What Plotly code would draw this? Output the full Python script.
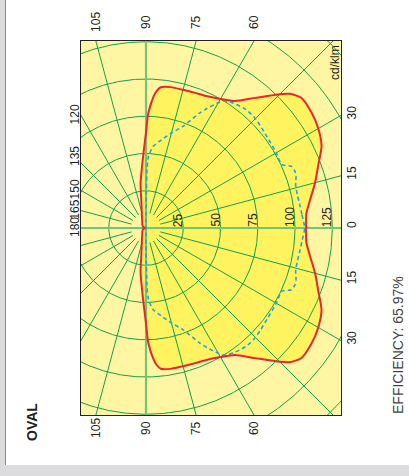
import numpy as np
import plotly.graph_objects as go

# ---- data ----
red_angles = [0, 5, 10, 15, 20, 25, 30, 35, 40, 43, 45, 50, 55, 60, 65, 70, 75, 80, 84, 86, 87,
              88, 89, 90, 91, 92, 94, 97, 100, 105, 110, 120, 135, 150, 165, 180]
red_values = [107.5, 108, 112, 117.5, 123, 130, 133.5, 135.5, 136, 132, 127, 114, 104, 100, 97.5,
              96.5, 96, 96, 95, 91, 87, 82, 76, 64, 56, 50, 40, 30, 18, 11, 8, 5, 3.5, 2.5, 1.5, 0.5]

blue_angles = [0, 5, 8, 12, 16, 19, 21, 23, 25, 30, 37, 42, 46, 50, 55, 58, 60, 63, 65, 70, 75,
               80, 85, 88, 89, 89.5, 90, 95, 180]
blue_values = [106.5, 105, 104.5, 104, 104.5, 106.5, 107, 106, 100.5, 101, 101.7, 103, 104, 104,
               102.3, 100.5, 97, 90, 85, 72.6, 66, 60, 55, 48, 40, 25, 10, 2, 0]

radial_ticks = [25, 50, 75, 100, 125]
top_angle_labels = [105, 90, 75, 60]
left_angle_labels = [120, 135, 150, 165, 180]
right_angle_labels = [30, 15, 0, -15, -30]
title_text = "OVAL"
unit_text = "cd/klm"
efficiency_text = "EFFICIENCY: 65.97%"

# ---- geometry / style ----
W, H = 409, 476
L, R, T, B = 81, 68, 41, 61
PX = 1.49  # pixels per cd/klm unit
X0, X1 = -(146 - L) / PX, (W - R - 146) / PX
Y1 = (228 - T) / PX
Y0 = -Y1

LIGHT = "#FFF6A3"
BRIGHT = "#FFF35F"
GREEN = "#12A04C"
AXGREEN = "#72C476"
RED = "#E8262B"
BLUE = "#1FA3E3"
TXT = "#231F20"
FONT = "Liberation Sans, Arial, sans-serif"


def full_curve(angles, values):
    a = np.radians(np.array(angles, dtype=float))
    r = np.array(values, dtype=float)
    xu, yu = r * np.cos(a), r * np.sin(a)
    xs = np.concatenate([xu, xu[::-1]])
    ys = np.concatenate([yu, -yu[::-1]])
    return xs, ys


rx, ry = full_curve(red_angles, red_values)
bx, by = full_curve(blue_angles, blue_values)

fig = go.Figure()

# yellow fill inside the red curve
fig.add_trace(go.Scatter(x=rx, y=ry, mode="lines", fill="toself", fillcolor=BRIGHT,
                         line=dict(width=0, color=BRIGHT), hoverinfo="skip", showlegend=False))

# grid circles
th = np.linspace(0, 2 * np.pi, 721)
gx, gy = [], []
for rr in range(25, 226, 25):
    gx += list(rr * np.cos(th)) + [None]
    gy += list(rr * np.sin(th)) + [None]
# radial lines every 15 degrees (except the main axes)
for ang in range(0, 360, 15):
    if ang % 90 == 0:
        continue
    a = np.radians(ang)
    gx += [10 * np.cos(a), 400 * np.cos(a), None]
    gy += [10 * np.sin(a), 400 * np.sin(a), None]
fig.add_trace(go.Scatter(x=gx, y=gy, mode="lines", line=dict(color=GREEN, width=1),
                         hoverinfo="skip", showlegend=False))
# main axes
fig.add_trace(go.Scatter(x=[-400, 400, None, 0, 0], y=[0, 0, None, -400, 400], mode="lines",
                         line=dict(color=AXGREEN, width=2.2), hoverinfo="skip", showlegend=False))

# blue dashed curve
fig.add_trace(go.Scatter(x=bx, y=by, mode="lines",
                         line=dict(color=BLUE, width=1.6, dash="4px,3px", shape="spline", smoothing=0.6),
                         hoverinfo="skip", showlegend=False))
# red curve
fig.add_trace(go.Scatter(x=rx, y=ry, mode="lines",
                         line=dict(color=RED, width=2, shape="spline", smoothing=0.6),
                         hoverinfo="skip", showlegend=False))

ann = []
tf = dict(family=FONT, size=12, color=TXT)
for a in top_angle_labels:
    xv = Y1 / np.tan(np.radians(a))
    ann.append(dict(x=xv, y=1, xref="x", yref="paper", text=str(a), textangle=-90, showarrow=False,
                    font=tf, xanchor="center", yanchor="middle", yshift=19))
    ann.append(dict(x=xv, y=0, xref="x", yref="paper", text=str(a), textangle=-90, showarrow=False,
                    font=tf, xanchor="center", yanchor="middle", yshift=-13))
for a in left_angle_labels:
    yv = X0 * np.tan(np.radians(a))
    shift = 7 if a == 135 else 1
    ann.append(dict(x=0, y=yv, xref="paper", yref="y", text=str(a), textangle=-90, showarrow=False,
                    font=tf, xanchor="center", yanchor="middle", xshift=-6, yshift=shift))
for a in right_angle_labels:
    yv = X1 * np.tan(np.radians(a))
    ann.append(dict(x=1, y=yv, xref="paper", yref="y", text=str(abs(a)), textangle=-90, showarrow=False,
                    font=tf, xanchor="center", yanchor="middle", xshift=11, yshift=3))
for r in radial_ticks:
    ann.append(dict(x=r, y=0, xref="x", yref="y", text=str(r), textangle=-90, showarrow=False,
                    font=tf, xanchor="center", yanchor="bottom", xshift=-5, yshift=-1))
ann.append(dict(x=1, y=1 - (63 - T) / (H - T - B), xref="paper", yref="paper", text=unit_text,
                textangle=-90, showarrow=False, font=tf, xanchor="center", yanchor="middle", xshift=-6))
ann.append(dict(x=(32 - L) / (W - L - R), y=1 - (422 - T) / (H - T - B), xref="paper", yref="paper",
                text="<b>" + title_text + "</b>", textangle=-90, showarrow=False,
                font=dict(family=FONT, size=14, color=TXT), xanchor="center", yanchor="middle"))
ann.append(dict(x=(398 - L) / (W - L - R), y=1 - (345 - T) / (H - T - B), xref="paper", yref="paper",
                text=efficiency_text, textangle=-90, showarrow=False,
                font=dict(family=FONT, size=14, color="#444444"), xanchor="center", yanchor="middle"))


def pxx(p):
    return (p - L) / (W - L - R)


def pxy(p):
    return 1 - (p - T) / (H - T - B)


shapes = [
    dict(type="rect", xref="paper", yref="paper", x0=pxx(0), x1=pxx(5), y0=pxy(476), y1=pxy(0),
         fillcolor="#DCDCDE", line=dict(width=0), layer="below"),
    dict(type="rect", xref="paper", yref="paper", x0=pxx(0), x1=pxx(409), y0=pxy(476), y1=pxy(465),
         fillcolor="#DCDCDE", line=dict(width=0), layer="below"),
    dict(type="line", xref="paper", yref="paper", x0=pxx(5.5), x1=pxx(5.5), y0=pxy(465), y1=pxy(0),
         line=dict(color="#8A8A8A", width=1)),
]

fig.update_layout(
    width=W, height=H, autosize=False,
    margin=dict(l=L, r=R, t=T, b=B, pad=0),
    paper_bgcolor="white", plot_bgcolor=LIGHT,
    xaxis=dict(range=[X0, X1], showgrid=False, zeroline=False, showticklabels=False, ticks="",
               showline=True, mirror=True, linecolor="#222222", linewidth=1, fixedrange=True),
    yaxis=dict(range=[Y0, Y1], showgrid=False, zeroline=False, showticklabels=False, ticks="",
               showline=True, mirror=True, linecolor="#222222", linewidth=1, fixedrange=True),
    annotations=ann, shapes=shapes, showlegend=False,
)

fig.write_html("out.html", config={"displayModeBar": False},
               post_script="document.body.style.margin='0px';document.body.style.overflow='hidden';")
